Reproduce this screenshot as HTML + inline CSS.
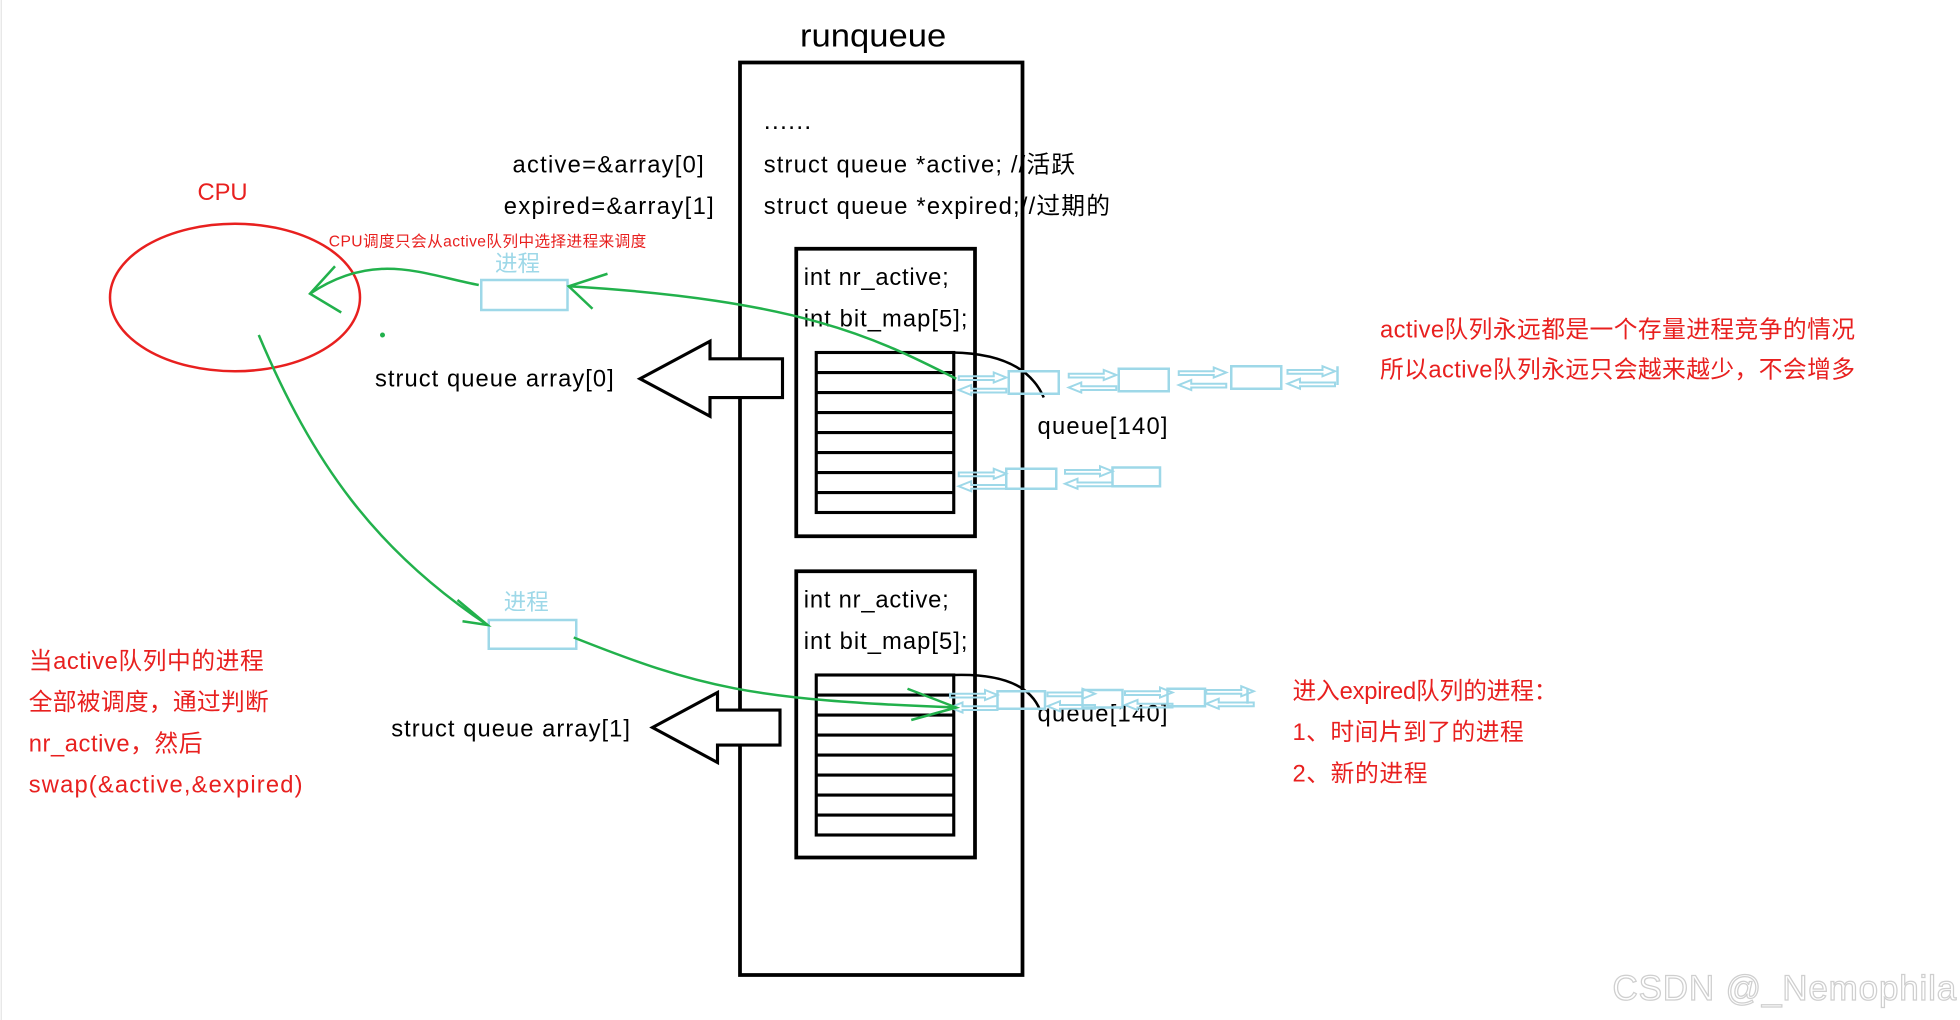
<!DOCTYPE html>
<html><head><meta charset="utf-8"><style>
html,body{margin:0;padding:0;background:#fff;width:1960px;height:1020px;overflow:hidden}
svg{display:block}
text{font-family:"Liberation Sans","Noto Sans CJK SC",sans-serif}
</style></head><body>
<svg width="1960" height="1020" viewBox="0 0 1568 816" xmlns="http://www.w3.org/2000/svg">
<defs>
<g id="pr" fill="none" stroke="#9ed8e8" stroke-width="1.6">
<path d="M0 -5 H28 L28 -8 L38 -4 L28 0 L28 -2 H0 Z"/>
<path d="M38 5 H10 L10 2 L0 6 L10 10 L10 8 H38 Z"/>
</g>
</defs>
<line x1="1" y1="0" x2="1" y2="816" stroke="#e5e5e5"/>
<text x="640" y="37" font-size="26" textLength="117" lengthAdjust="spacingAndGlyphs">runqueue</text>
<rect x="592" y="50" width="226" height="730" fill="none" stroke="#000" stroke-width="3"/>
<text x="611" y="103" font-size="20" textLength="38">......</text>
<text x="611" y="138" font-size="19" textLength="249">struct queue *active; //活跃</text>
<text x="611" y="171" font-size="19" textLength="277">struct queue *expired;//过期的</text>
<text x="410" y="138" font-size="19" textLength="153">active=&amp;array[0]</text>
<text x="403" y="171" font-size="19" textLength="168">expired=&amp;array[1]</text>

<rect x="637" y="199" width="143" height="230" fill="none" stroke="#000" stroke-width="3"/>
<text x="643" y="228" font-size="19" textLength="116">int nr_active;</text>
<text x="643" y="261" font-size="19" textLength="131">int bit_map[5];</text>
<g fill="none" stroke="#000" stroke-width="2.5">
<rect x="653" y="282" width="110" height="128"/>
<path d="M653 298H763M653 314H763M653 330H763M653 346H763M653 362H763M653 378H763M653 394H763"/>
</g>
<rect x="637" y="457" width="143" height="229" fill="none" stroke="#000" stroke-width="3"/>
<text x="643" y="486" font-size="19" textLength="116">int nr_active;</text>
<text x="643" y="519" font-size="19" textLength="131">int bit_map[5];</text>
<g fill="none" stroke="#000" stroke-width="2.5">
<rect x="653" y="540" width="110" height="128"/>
<path d="M653 556H763M653 572H763M653 588H763M653 604H763M653 620H763M653 636H763M653 652H763"/>
</g>

<path d="M762 282 Q820 283 835 318" fill="none" stroke="#000" stroke-width="2"/>
<path d="M762 540 Q820 538 832 568" fill="none" stroke="#000" stroke-width="2"/>
<text x="830" y="347" font-size="19" textLength="104">queue[140]</text>
<text x="830" y="577" font-size="19" textLength="104">queue[140]</text>

<g fill="none" stroke="#9ed8e8" stroke-width="2">
<rect x="807" y="297" width="40" height="18"/>
<rect x="895" y="295" width="40" height="18"/>
<rect x="985" y="293" width="40" height="18"/>
<path d="M1070 293V308"/>
<rect x="805" y="375" width="40" height="16"/>
<rect x="890" y="374" width="38" height="15"/>
<rect x="798" y="553" width="38" height="14"/>
<rect x="866" y="552" width="32" height="14"/>
<rect x="934" y="551" width="30" height="14"/>
<path d="M998 551V563"/>
</g>
<use href="#pr" x="767" y="306"/>
<use href="#pr" x="855" y="304"/>
<use href="#pr" x="943" y="302"/>
<use href="#pr" x="1030" y="301"/>
<use href="#pr" x="767" y="383"/>
<use href="#pr" x="852" y="381"/>
<use href="#pr" x="760" y="560"/>
<use href="#pr" x="838" y="559"/>
<use href="#pr" x="900" y="558"/>
<use href="#pr" x="965" y="557"/>

<path d="M626 287 V318 H568 V333 L512 303 L568 273 V287 Z" fill="#fff" stroke="#000" stroke-width="2.5"/>
<path d="M624 568 V596 H574 V610 L522 582 L574 554 V568 Z" fill="#fff" stroke="#000" stroke-width="2.5"/>
<text x="300" y="309" font-size="19" textLength="191">struct queue array[0]</text>
<text x="313" y="589" font-size="19" textLength="191">struct queue array[1]</text>

<text x="158" y="160" font-size="19" fill="#e8201f" textLength="40">CPU</text>
<ellipse cx="188" cy="238" rx="100" ry="59" fill="none" stroke="#e8201f" stroke-width="2"/>
<text x="263" y="197" font-size="12.5" fill="#e8201f" textLength="254">CPU调度只会从active队列中选择进程来调度</text>
<text x="396" y="217" font-size="18" fill="#9ed8e8">进程</text>
<rect x="385" y="224" width="69" height="24" fill="none" stroke="#9ed8e8" stroke-width="2"/>
<text x="403" y="488" font-size="18" fill="#9ed8e8">进程</text>
<rect x="391" y="496" width="70" height="23" fill="none" stroke="#9ed8e8" stroke-width="2"/>

<g fill="none" stroke="#22b14c" stroke-width="2">
<path d="M765 303 C700 270 640 240 455 229"/>
<path d="M486 219 L455 229 L474 247"/>
<path d="M383 228 C340 220 300 200 248 235"/>
<path d="M268 213 L248 235 L273 250"/>
<path d="M207 268 C250 370 300 440 390 500"/>
<path d="M366 480 L390 500 L370 497"/>
<path d="M459 510 C560 550 600 560 765 566"/>
<path d="M726 551 L765 566 L729 576"/>
<circle cx="306" cy="268" r="1"/>
</g>

<g font-size="19" fill="#e8201f">
<text x="1104" y="270" textLength="380">active队列永远都是一个存量进程竞争的情况</text>
<text x="1104" y="302" textLength="380">所以active队列永远只会越来越少，不会增多</text>
<text x="1034" y="559" textLength="212">进入expired队列的进程：</text>
<text x="1034" y="592" textLength="185">1、时间片到了的进程</text>
<text x="1034" y="625" textLength="108">2、新的进程</text>
<text x="23" y="535" textLength="188">当active队列中的进程</text>
<text x="23" y="568" textLength="192">全部被调度，通过判断</text>
<text x="23" y="601" textLength="139">nr_active，然后</text>
<text x="23" y="634" textLength="219">swap(&amp;active,&amp;expired)</text>
</g>
<text x="1290" y="800" font-size="28" fill="#fff" stroke="#cfcfcf" stroke-width="1" textLength="275">CSDN @_Nemophila</text>
</svg>
</body></html>
